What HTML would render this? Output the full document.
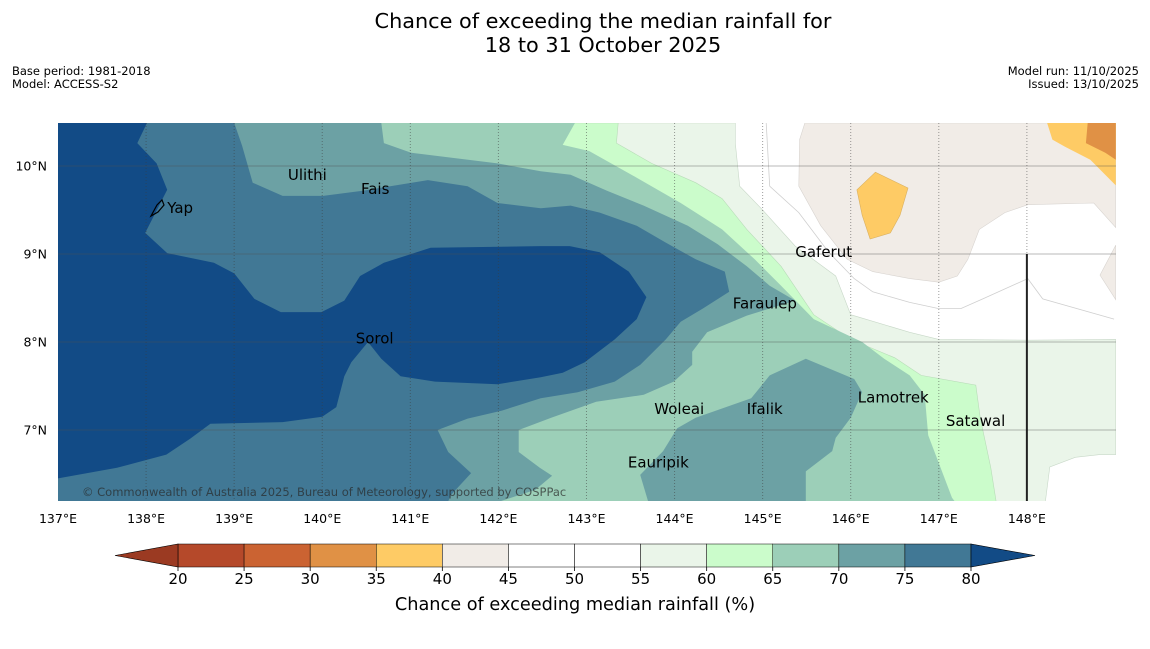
<!DOCTYPE html>
<html><head><meta charset="utf-8">
<style>
html,body{margin:0;padding:0;background:#fff;}
body{width:1150px;height:644px;overflow:hidden;font-family:"Liberation Sans","DejaVu Sans",sans-serif;}
svg text{font-family:"DejaVu Sans","Liberation Sans",sans-serif;}
</style></head>
<body>
<svg id="chart" width="1150" height="644" viewBox="0 0 1150 644">
  <text x="603" y="28" font-size="20.8" text-anchor="middle">Chance of exceeding the median rainfall for</text>
  <text x="603" y="52" font-size="20.8" text-anchor="middle">18 to 31 October 2025</text>
  <text x="12" y="75" font-size="11.5">Base period: 1981-2018</text>
  <text x="12" y="88" font-size="11.5">Model: ACCESS-S2</text>
  <text x="1139" y="75" font-size="11.5" text-anchor="end">Model run: 11/10/2025</text>
  <text x="1139" y="88" font-size="11.5" text-anchor="end">Issued: 13/10/2025</text>
  <defs><clipPath id="frame"><rect x="58" y="123" width="1058" height="378"/></clipPath></defs>
  <g id="map" clip-path="url(#frame)"></g>
  <g id="axes"></g>
  <g id="cbar"></g>
  <text x="575" y="610" font-size="17.7" text-anchor="middle">Chance of exceeding median rainfall (%)</text>
</svg>
<script>
// ---- data (lon, lat) ----
const lonTicks = [137,138,139,140,141,142,143,144,145,146,147,148];
const latTicks = [10,9,8,7];
const cbarLevels = [20,25,30,35,40,45,50,55,60,65,70,75,80];
const cbarColors = ["#b5492a","#cb6332","#e09145","#fecb65","#f1ece7","#ffffff","#ffffff","#eaf5e9","#cbfccb","#9ccfb8","#6ca1a4","#417895"];
const ge55 = [[137,10.49],[144.69,10.49],[144.69,10.26],[144.74,9.77],[144.99,9.51],[145.37,9.09],[145.83,8.75],[146.00,8.31],[146.67,8.11],[147.00,8.03],[148.01,8.02],[149.01,8.03],[149.01,6.72],[148.83,6.72],[148.55,6.69],[148.26,6.58],[148.21,6.19],[137,6.19]];
const ge60 = [[137,10.49],[143.36,10.49],[143.34,10.26],[143.74,10.03],[144.24,9.81],[144.54,9.63],[144.82,9.28],[145.21,8.86],[145.58,8.31],[146.00,8.03],[146.50,7.82],[146.80,7.62],[147.42,7.51],[147.47,7.14],[147.59,6.57],[147.65,6.19],[137,6.19]];
const ge65 = [[137,10.49],[142.87,10.49],[142.73,10.24],[143.03,10.17],[143.53,9.89],[144.07,9.58],[144.54,9.28],[144.91,8.94],[145.21,8.64],[145.58,8.26],[146.13,8.00],[146.38,7.81],[146.67,7.62],[146.84,7.40],[146.88,6.94],[147.02,6.57],[147.15,6.23],[147.18,6.19],[137,6.19]];
const ge70west = [[137,10.49],[140.67,10.49],[140.70,10.26],[141.01,10.15],[141.99,10.03],[142.48,9.94],[142.82,9.90],[143.23,9.72],[143.65,9.55],[144.15,9.32],[144.49,9.11],[144.82,8.86],[145.08,8.64],[145.37,8.47],[144.82,8.30],[144.37,8.11],[144.20,7.89],[144.20,7.74],[143.99,7.55],[143.65,7.40],[143.11,7.32],[142.60,7.14],[142.23,7.00],[142.23,6.75],[142.47,6.57],[142.61,6.48],[142.42,6.32],[142.02,6.19],[137,6.19]];
const ge70south = [[143.70,6.19],[143.61,6.49],[143.87,6.76],[144.03,7.02],[144.24,7.14],[144.87,7.36],[145.08,7.62],[145.49,7.81],[146.04,7.58],[146.13,7.43],[146.00,7.14],[145.83,6.91],[145.79,6.76],[145.49,6.53],[145.49,6.19]];
const ge75 = [[137,10.49],[139.00,10.49],[139.09,10.23],[139.21,9.81],[139.55,9.66],[140.01,9.66],[140.47,9.72],[141.20,9.84],[141.65,9.77],[141.99,9.58],[142.48,9.52],[142.82,9.55],[143.15,9.47],[143.57,9.32],[143.90,9.13],[144.24,8.94],[144.57,8.80],[144.62,8.57],[144.32,8.38],[144.07,8.23],[143.90,8.03],[143.61,7.74],[143.32,7.55],[142.90,7.43],[142.48,7.36],[142.04,7.22],[141.65,7.13],[141.31,7.00],[141.43,6.75],[141.69,6.51],[141.46,6.26],[141.43,6.19],[137,6.19]];
const ge80 = [[137,10.49],[138.01,10.49],[137.90,10.26],[138.12,10.03],[138.24,9.73],[137.99,9.24],[138.24,9.01],[138.77,8.90],[139.00,8.78],[139.23,8.49],[139.53,8.34],[139.99,8.34],[140.25,8.47],[140.43,8.75],[140.70,8.90],[141.23,9.07],[142.48,9.09],[142.81,9.09],[143.15,9.02],[143.48,8.80],[143.68,8.51],[143.57,8.26],[143.32,8.03],[142.98,7.77],[142.73,7.65],[142.48,7.60],[141.99,7.52],[141.28,7.55],[140.89,7.61],[140.67,7.81],[140.52,8.00],[140.33,7.77],[140.25,7.61],[140.16,7.26],[140.00,7.15],[139.55,7.09],[138.73,7.07],[138.50,6.90],[138.23,6.72],[137.67,6.57],[137,6.45]];
const le45 = [[145.48,10.49],[149.01,10.49],[149.01,9.30],[148.76,9.58],[148.01,9.56],[147.75,9.47],[147.46,9.28],[147.33,8.94],[147.21,8.75],[147.00,8.68],[146.67,8.72],[146.25,8.80],[145.96,8.94],[145.66,9.32],[145.41,9.77],[145.42,10.30]];
const le45b = [[149.01,9.10],[148.83,8.76],[149.01,8.48]];
const le40a = [[146.07,9.73],[146.28,9.93],[146.65,9.75],[146.56,9.44],[146.45,9.24],[146.22,9.17],[146.13,9.44]];
const le40b = [[148.23,10.49],[149.01,10.49],[149.01,9.78],[148.72,10.07],[148.43,10.22],[148.29,10.30]];
const le35 = [[148.69,10.49],[149.01,10.49],[149.01,10.07],[148.89,10.15],[148.67,10.26]];
const c50 = [[145.04,10.49],[145.08,9.77],[145.41,9.47],[145.75,9.02],[146.04,8.72],[146.25,8.57],[146.67,8.45],[147.00,8.38],[147.25,8.38],[147.50,8.49],[148.01,8.72],[148.18,8.49],[148.99,8.26]];
const places = ["Ulithi","Fais","Yap","Gaferut","Faraulep","Sorol","Woleai","Ifalik","Lamotrek","Satawal","Eauripik"];
const placeLon = [139.61,140.44,138.24,145.37,144.66,140.38,143.77,144.82,146.08,147.08,143.47];
const placeLat = [9.90,9.74,9.52,9.02,8.44,8.04,7.24,7.24,7.37,7.10,6.63];

// ---- scales ----
const x = lon => 58 + (lon - 137) * 88.08;
const y = lat => 166 + (10 - lat) * 88;
const NS = "http://www.w3.org/2000/svg";
const map = document.getElementById('map');
const axes = document.getElementById('axes');
const cbar = document.getElementById('cbar');
function pts(arr){ return arr.map(p => x(p[0]).toFixed(1)+','+y(p[1]).toFixed(1)).join(' '); }
function poly(parent, arr, fill, name, stroke){
  const e = document.createElementNS(NS,'polygon');
  e.setAttribute('points', pts(arr));
  e.setAttribute('fill', fill);
  if (stroke){ e.setAttribute('stroke', stroke); e.setAttribute('stroke-width','0.6'); }
  
  
  parent.appendChild(e);
  return e;
}
const bg = document.createElementNS(NS,'rect');
bg.setAttribute('x',58); bg.setAttribute('y',123); bg.setAttribute('width',1058); bg.setAttribute('height',378); bg.setAttribute('fill','#ffffff');


map.appendChild(bg);
poly(map, le45, "#f1ece7", "region-40-45", "#d8d4d0");
poly(map, le45b, "#f1ece7", "region-40-45-east", "#d8d4d0");
poly(map, le40a, "#fecb65", "region-35-40-blob", "#d9b060");
poly(map, le40b, "#fecb65", "region-35-40-corner");
poly(map, le35, "#e09145", "region-30-35-corner");
poly(map, ge55, "#eaf5e9", "region-55-60", "#c8d8c8");
poly(map, ge60, "#cbfccb", "region-60-65", "#b8dcb8");
poly(map, ge65, "#9ccfb8", "region-65-70");
poly(map, ge70west, "#6ca1a4", "region-70-75-west");
poly(map, ge70south, "#6ca1a4", "region-70-75-south");
poly(map, ge75, "#417895", "region-75-80");
poly(map, ge80, "#124b86", "region-above-80");
const line50 = document.createElementNS(NS,'polyline');
line50.setAttribute('points', pts(c50));
line50.setAttribute('fill','none'); line50.setAttribute('stroke','#cfcfcf'); line50.setAttribute('stroke-width','0.8');


map.appendChild(line50);

latTicks.forEach(t => {
  const l = document.createElementNS(NS,'line');
  l.setAttribute('x1',58); l.setAttribute('x2',1116); l.setAttribute('y1',y(t)); l.setAttribute('y2',y(t));
  l.setAttribute('stroke','rgba(80,80,80,0.4)'); l.setAttribute('stroke-width','1');
  
  
  map.appendChild(l);
  const tx = document.createElementNS(NS,'text');
  tx.setAttribute('x',47); tx.setAttribute('y',y(t)+4.5); tx.setAttribute('font-size','12.5'); tx.setAttribute('text-anchor','end');
  tx.textContent = t + '°N';
  
  
  axes.appendChild(tx);
});
lonTicks.forEach(t => {
  if (t > 137){
    const l = document.createElementNS(NS,'line');
    l.setAttribute('x1',x(t)); l.setAttribute('x2',x(t)); l.setAttribute('y1',123); l.setAttribute('y2',501);
    l.setAttribute('stroke','rgba(60,60,60,0.5)'); l.setAttribute('stroke-width','1'); l.setAttribute('stroke-dasharray','1,2');
    
    
    map.appendChild(l);
  }
  const tx = document.createElementNS(NS,'text');
  tx.setAttribute('x',x(t)); tx.setAttribute('y',523); tx.setAttribute('font-size','12.5'); tx.setAttribute('text-anchor','middle');
  tx.textContent = t + '°E';
  
  
  axes.appendChild(tx);
});
const bl = document.createElementNS(NS,'line');
bl.setAttribute('x1',x(148)); bl.setAttribute('x2',x(148)); bl.setAttribute('y1',y(9)); bl.setAttribute('y2',501);
bl.setAttribute('stroke','#222'); bl.setAttribute('stroke-width','2');


map.appendChild(bl);
const yap = document.createElementNS(NS,'path');
yap.setAttribute('d','M151 216 L157 205 L162 200 L164 205 L158 212 Z');
yap.setAttribute('fill','none'); yap.setAttribute('stroke','#000'); yap.setAttribute('stroke-width','1.2');


map.appendChild(yap);
places.forEach((p,i) => {
  const tx = document.createElementNS(NS,'text');
  tx.setAttribute('x', x(placeLon[i])); tx.setAttribute('y', y(placeLat[i]) + 5);
  tx.setAttribute('font-size','15'); tx.setAttribute('fill','#000');
  tx.textContent = p;
  
  
  map.appendChild(tx);
});
const cr = document.createElementNS(NS,'text');
cr.setAttribute('x',82); cr.setAttribute('y',496); cr.setAttribute('font-size','11.5'); cr.setAttribute('fill','rgba(40,40,40,0.7)');
cr.textContent = '© Commonwealth of Australia 2025, Bureau of Meteorology, supported by COSPPac';


map.appendChild(cr);

const cx = v => 178 + (v - 20) * (793 / 60);
for (let i = 0; i < cbarColors.length; i++){
  const r = document.createElementNS(NS,'rect');
  r.setAttribute('x', cx(cbarLevels[i])); r.setAttribute('y',544);
  r.setAttribute('width', cx(cbarLevels[i+1]) - cx(cbarLevels[i])); r.setAttribute('height',23);
  r.setAttribute('fill', cbarColors[i]); r.setAttribute('stroke','#000'); r.setAttribute('stroke-width','0.5');
  
  
  cbar.appendChild(r);
}
const lt = document.createElementNS(NS,'polygon');
lt.setAttribute('points', `115,555.5 ${cx(20)},544 ${cx(20)},567`);
lt.setAttribute('fill','#9b3a22'); lt.setAttribute('stroke','#000'); lt.setAttribute('stroke-width','0.6');


cbar.appendChild(lt);
const rt = document.createElementNS(NS,'polygon');
rt.setAttribute('points', `1035,555.5 ${cx(80)},544 ${cx(80)},567`);
rt.setAttribute('fill','#124b86'); rt.setAttribute('stroke','#000'); rt.setAttribute('stroke-width','0.6');


cbar.appendChild(rt);
cbarLevels.forEach(v => {
  const tk = document.createElementNS(NS,'line');
  tk.setAttribute('x1',cx(v)); tk.setAttribute('x2',cx(v)); tk.setAttribute('y1',567); tk.setAttribute('y2',571);
  tk.setAttribute('stroke','#000'); tk.setAttribute('stroke-width','0.8');
  
  
  cbar.appendChild(tk);
  const tx = document.createElementNS(NS,'text');
  tx.setAttribute('x',cx(v)); tx.setAttribute('y',584); tx.setAttribute('font-size','15'); tx.setAttribute('text-anchor','middle');
  tx.textContent = v;
  
  
  cbar.appendChild(tx);
});
</script>
</body></html>
